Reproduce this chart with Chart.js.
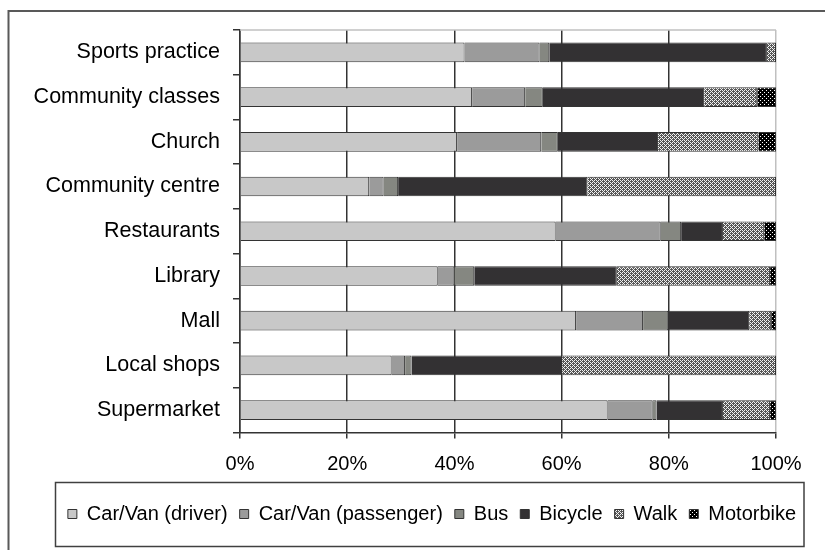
<!DOCTYPE html>
<html><head><meta charset="utf-8">
<script src="https://cdn.jsdelivr.net/npm/chart.js@4"></script>
<style>html,body{margin:0;padding:0;background:#fff;}canvas{display:block;}</style>
</head><body>
<canvas id="c" width="825" height="550"></canvas>
<script>
const categories = ['Sports practice','Community classes','Church','Community centre','Restaurants','Library','Mall','Local shops','Supermarket'];
const seriesNames = ['Car/Van (driver)','Car/Van (passenger)','Bus','Bicycle','Walk','Motorbike'];
const carDriver    = [41.9, 43.3, 40.5, 24.1, 58.9, 36.9, 62.7, 28.3, 68.6];
const carPassenger = [14.0,  9.9, 15.7,  2.7, 19.6,  3.1, 12.5,  2.5,  8.4];
const bus          = [ 1.8,  3.3,  3.1,  2.7,  3.8,  3.7,  4.7,  1.2,  0.7];
const bicycle      = [40.6, 30.1, 18.7, 35.3,  7.8, 26.6, 15.1, 28.1, 12.4];
const walk         = [ 1.7,  9.9, 18.7, 35.2,  7.7, 28.6,  4.1, 39.9,  8.8];
const motorbike    = [ 0.0,  3.5,  3.3,  0.0,  2.2,  1.1,  0.9,  0.0,  1.1];
const tickLabels = ['0%','20%','40%','60%','80%','100%'];

const canvas = document.getElementById('c');
const ctx0 = canvas.getContext('2d');
function makePattern(bg, fg, pts, size) {
  const c = document.createElement('canvas'); c.width = size; c.height = size;
  const g = c.getContext('2d');
  g.fillStyle = bg; g.fillRect(0, 0, size, size);
  g.fillStyle = fg; pts.forEach(p => g.fillRect(p[0], p[1], 1, 1));
  return ctx0.createPattern(c, 'repeat');
}
const walkPattern = makePattern('#555555', '#f2f2f2', [[0,0],[2,0],[1,1],[0,2],[2,2],[3,3]], 4);
const motoPattern = makePattern('#000000', '#ffffff', [[0,0],[2,2]], 4);

const colors = ['#c8c8c8', '#9b9b9b', '#858781', '#333133', walkPattern, motoPattern];
const values = [carDriver, carPassenger, bus, bicycle, walk, motorbike];

const FONT = "'Liberation Sans', Arial, sans-serif";
const LEG_PAD = 12;

const framePlugin = {
  id: 'frame',
  beforeDraw(chart) {
    const lg = chart.legend;
    if (lg && lg.lineWidths) {
      const W = lg.lineWidths[0];
      const x0 = 432 - (W - LEG_PAD) / 2;
      lg.left = x0 - LEG_PAD; lg.right = x0 + W; lg.width = lg.right - lg.left;
      lg.top = 504 - LEG_PAD; lg.bottom = lg.top + lg.height;
    }
  },
  beforeDatasetsDraw(chart) {
    const {ctx, chartArea: a} = chart;
    ctx.save();
    ctx.strokeStyle = '#c0c0c0'; ctx.lineWidth = 1.5;
    ctx.beginPath(); ctx.moveTo(a.left, a.top); ctx.lineTo(a.right, a.top); ctx.stroke();
    ctx.restore();
  },
  afterDraw(chart) {
    const ctx = chart.ctx;
    ctx.save();
    ctx.strokeStyle = '#404040'; ctx.lineWidth = 1.5;
    ctx.strokeRect(55.5, 482.5, 748.5, 64);
    ctx.strokeStyle = '#595959'; ctx.lineWidth = 2;
    ctx.strokeRect(8.5, 11, 1000, 1000);
    ctx.restore();
  }
};

new Chart(canvas, {
  type: 'bar',
  data: {
    labels: categories,
    datasets: seriesNames.map((n, i) => ({
      label: n, data: values[i], backgroundColor: colors[i],
      borderColor: '#333333', borderWidth: 1,
      categoryPercentage: 1, barPercentage: 0.44
    }))
  },
  options: {
    indexAxis: 'y', responsive: false, animation: false,
    layout: { padding: { top: 30, right: 49, left: 0, bottom: 0 } },
    plugins: {
      tooltip: { enabled: false },
      legend: {
        position: 'bottom',
        labels: { font: { family: FONT, size: 20 }, color: '#000', boxWidth: 9, boxHeight: 9, padding: LEG_PAD }
      }
    },
    scales: {
      x: {
        stacked: true, min: 0, max: 100,
        ticks: { stepSize: 20, color: '#000', font: { family: FONT, size: 20 }, padding: 14,
          callback: v => tickLabels[Math.round(v / 20)] },
        grid: { color: c => c.index === 5 ? '#c0c0c0' : '#333333', lineWidth: 1.5, tickLength: 6, tickColor: '#333333', tickWidth: 1.5 },
        border: { display: true, color: '#333333', width: 1.5 },
        afterFit: s => { s.height = 550 - 432.5 - (s.chart.legend ? s.chart.legend.height : 44); }
      },
      y: {
        stacked: true,
        ticks: { color: '#000', font: { family: FONT, size: 21.5 }, padding: 13 },
        grid: { drawOnChartArea: false, offset: true, tickLength: 7, color: '#333333', lineWidth: 1.5 },
        border: { display: true, color: '#333333', width: 1.5 },
        afterFit: s => { s.width = 240; }
      }
    }
  },
  plugins: [framePlugin]
});
</script>
</body></html>
